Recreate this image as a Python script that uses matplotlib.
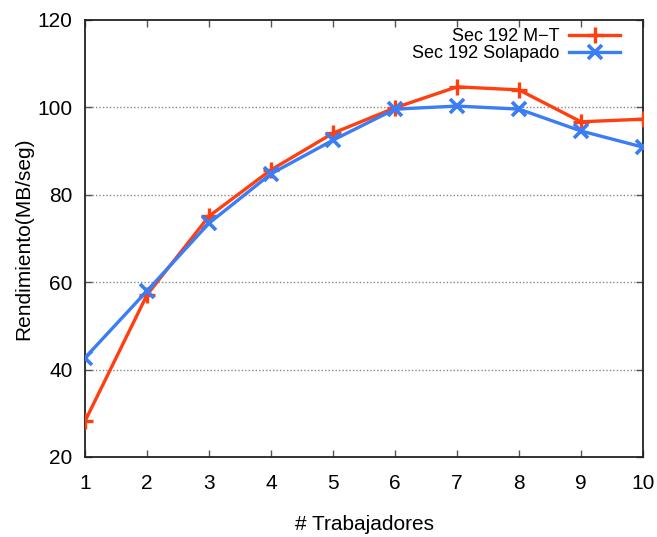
import matplotlib.pyplot as plt

plt.rcParams['font.family'] = ['Liberation Sans', 'DejaVu Sans']

trabajadores = [1, 2, 3, 4, 5, 6, 7, 8, 9, 10]
sec_mt = [28.2, 57.1, 75.1, 85.7, 94.1, 99.9, 104.7, 104.0, 96.7, 97.3]
sec_solapado = [42.7, 58.0, 73.5, 84.8, 92.5, 99.6, 100.3, 99.6, 94.6, 90.9]

fig = plt.figure(figsize=(6.57, 5.37), dpi=100)
ax = fig.add_axes([0.1294, 0.149, 0.8493, 0.8138])

ax.plot(trabajadores, sec_mt, color='#ff3f10', lw=2.4, marker='+',
        markersize=12, mew=2.4, label='Sec 192 M\u2212T', zorder=3)
ax.plot(trabajadores, sec_solapado, color='#3a7df5', lw=2.4, marker='x',
        markersize=10, mew=2.6, label='Sec 192 Solapado', zorder=3)

ax.set_xlim(1, 10)
ax.set_ylim(20, 120)
ax.set_xticks(trabajadores)
ax.set_yticks([20, 40, 60, 80, 100, 120])
ax.tick_params(direction='in', top=True, right=True, labelsize=15, length=5, width=1, color='#555555')
ax.tick_params(axis='x', pad=12)
ax.tick_params(axis='y', pad=9)
for s in ax.spines.values():
    s.set_linewidth(1.3)
    s.set_color('#222222')

for y in [40, 60, 80, 100]:
    ax.axhline(y, color='#888888', lw=1, ls=(0, (1, 1.5)), zorder=1)

ax.set_xlabel('# Trabajadores', fontsize=15, labelpad=16)
ax.set_ylabel('Rendimiento(MB/seg)', fontsize=15, labelpad=3)

leg = ax.legend(loc='upper right', bbox_to_anchor=(0.965, 0.99), markerfirst=False, frameon=False,
                fontsize=13, handlelength=2.8, borderaxespad=0.0, borderpad=0.2,
                labelspacing=0.0, handletextpad=0.55)

fig.savefig('out.png', dpi=100)
